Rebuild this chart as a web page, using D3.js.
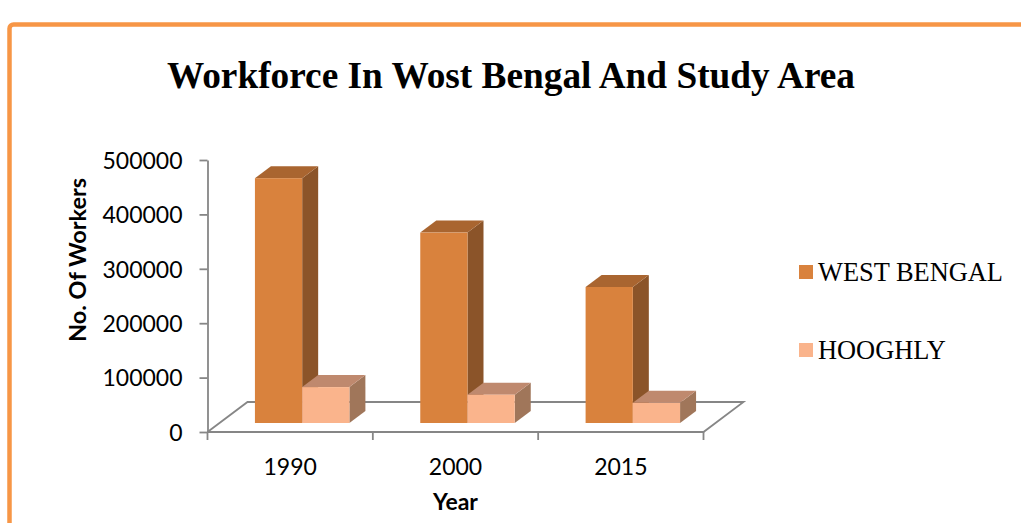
<!DOCTYPE html>
<html>
<head>
<meta charset="utf-8">
<script src="https://cdn.jsdelivr.net/npm/d3@7"></script>
<style>
  html, body { margin: 0; padding: 0; background: #ffffff; }
  svg { display: block; }
</style>
</head>
<body>
<svg id="chart" width="1021" height="523"></svg>
<script>
// Workforce figures by year
const years = ["1990", "2000", "2015"];
const seriesNames = ["WEST BENGAL", "HOOGHLY"];
const westBengal = [450000, 350000, 250000];
const hooghly = [66000, 52000, 37000];
const yTicks = [0, 100000, 200000, 300000, 400000, 500000];

const titleText = "Workforce In Wost Bengal And Study Area";
const yTitle = "No. Of Workers";
const xTitle = "Year";

const svg = d3.select("#chart");

// Outer frame
svg.append("rect")
  .attr("x", 9.5).attr("y", 24.5)
  .attr("width", 1100).attr("height", 600)
  .attr("rx", 4)
  .attr("fill", "none")
  .attr("stroke", "#F79646")
  .attr("stroke-width", 4.5);

// Title
svg.append("text")
  .attr("x", 511).attr("y", 88)
  .attr("text-anchor", "middle")
  .attr("font-family", "'Liberation Serif', 'Times New Roman', serif")
  .attr("font-weight", "bold")
  .attr("font-size", 37.3)
  .text(titleText);

// Front plane geometry and floor depth vector
const x0 = 207.5, x1 = 703.5;
const yFront = d3.scaleLinear().domain([0, 500000]).range([432, 160]);
const depth = { dx: 40, dy: -30 };
const barFrontAt = 0.3, barDepth = 0.4;

const x = d3.scaleBand().domain(years).range([x0, x1]).padding(0);
const bw = x.bandwidth();
const barW = bw / 3.5;
const xs = d3.scaleBand().domain(seriesNames).range([barW * 0.75, bw - barW * 0.75]).padding(0);

const axisColor = "#868686";

// Floor
const floorPts = [
  [x0, yFront(0)],
  [x1, yFront(0)],
  [x1 + depth.dx, yFront(0) + depth.dy],
  [x0 + depth.dx, yFront(0) + depth.dy],
  [x0, yFront(0)]
];
svg.append("path")
  .attr("d", d3.line()(floorPts))
  .attr("fill", "none")
  .attr("stroke", axisColor)
  .attr("stroke-width", 1.8);

// Category tick marks on the front edge
const boundaries = years.map(d => x(d)).concat([x1]);
svg.append("g").selectAll("line")
  .data(boundaries)
  .join("line")
  .attr("x1", d => d).attr("x2", d => d)
  .attr("y1", yFront(0)).attr("y2", yFront(0) + 8)
  .attr("stroke", axisColor)
  .attr("stroke-width", 1.8);

// Category labels
svg.append("g").selectAll("text")
  .data(years)
  .join("text")
  .attr("x", d => x(d) + bw / 2)
  .attr("y", 475)
  .attr("text-anchor", "middle")
  .attr("font-family", "Lato, 'Open Sans', sans-serif")
  .attr("font-size", 23)
  .attr("fill", "#000")
  .text(d => d);

// Value axis
const yAxis = d3.axisLeft(yFront)
  .tickValues(yTicks)
  .tickSize(8)
  .tickSizeOuter(0)
  .tickPadding(17)
  .tickFormat(d => String(d));
const gy = svg.append("g")
  .attr("transform", `translate(${x0},0)`)
  .call(yAxis);
gy.select(".domain").attr("stroke", axisColor).attr("stroke-width", 1.8);
gy.selectAll(".tick line").attr("stroke", axisColor).attr("stroke-width", 1.8);
gy.selectAll(".tick text")
  .attr("font-family", "Lato, 'Open Sans', sans-serif")
  .attr("font-size", 23)
  .attr("fill", "#000")
  .attr("dy", "0.36em");

// Axis titles
svg.append("text")
  .attr("transform", "translate(86,260) rotate(-90)")
  .attr("text-anchor", "middle")
  .attr("font-family", "Lato, 'Open Sans', sans-serif")
  .attr("font-weight", "bold")
  .attr("font-size", 23.5)
  .text(yTitle);

svg.append("text")
  .attr("x", x0 + (x1 - x0) / 2)
  .attr("y", 510)
  .attr("text-anchor", "middle")
  .attr("font-family", "Lato, 'Open Sans', sans-serif")
  .attr("font-weight", "bold")
  .attr("font-size", 23)
  .text(xTitle);

// 3D columns
const palette = {
  "WEST BENGAL": { front: "#D9823D", top: "#A96530", side: "#8B5429" },
  "HOOGHLY": { front: "#FAB48C", top: "#BF896E", side: "#A0765A" }
};
const valuesBySeries = { "WEST BENGAL": westBengal, "HOOGHLY": hooghly };

const bars = [];
years.forEach((yr, i) => {
  seriesNames.forEach(s => {
    bars.push({ year: yr, series: s, value: valuesBySeries[s][i] });
  });
});

const fx = barFrontAt * depth.dx, fy = barFrontAt * depth.dy;
const bx = barDepth * depth.dx, by = barDepth * depth.dy;

const gBars = svg.append("g");
bars.forEach(b => {
  const left = x(b.year) + xs(b.series) + fx;
  const right = left + xs.bandwidth();
  const top = yFront(b.value) + fy;
  const bottom = yFront(0) + fy;
  const c = palette[b.series];
  const g = gBars.append("g");
  // side face
  g.append("path")
    .attr("d", d3.line()([[right, bottom], [right + bx, bottom + by], [right + bx, top + by], [right, top]]) + "Z")
    .attr("fill", c.side);
  // top face
  g.append("path")
    .attr("d", d3.line()([[left, top], [left + bx, top + by], [right + bx, top + by], [right, top]]) + "Z")
    .attr("fill", c.top);
  // front face
  g.append("rect")
    .attr("x", left).attr("y", top)
    .attr("width", right - left).attr("height", bottom - top)
    .attr("fill", c.front);
});

// Legend
const legend = svg.append("g");
const legendY = [272, 350];
seriesNames.forEach((s, i) => {
  legend.append("rect")
    .attr("x", 799).attr("y", legendY[i] - 7)
    .attr("width", 14).attr("height", 14)
    .attr("fill", palette[s].front);
  legend.append("text")
    .attr("x", 818).attr("y", legendY[i] + 8.5)
    .attr("font-family", "'Liberation Serif', 'Times New Roman', serif")
    .attr("font-size", 26.4)
    .attr("fill", "#000")
    .text(s);
});
</script>
</body>
</html>
